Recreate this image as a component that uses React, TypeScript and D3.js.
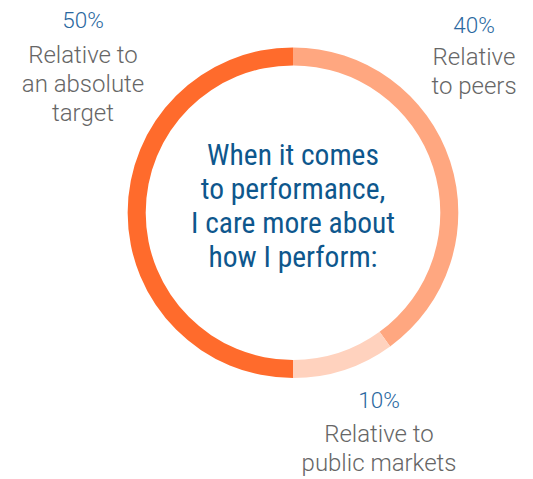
import React from "react";
import * as d3 from "d3";

const categories = ["Relative to peers", "Relative to public markets", "Relative to an absolute target"];
const values = [40, 10, 50];
const labelLines = [["Relative", "to peers"], ["Relative to", "public markets"], ["Relative to", "an absolute", "target"]];
const centerLines = ["When it comes", "to performance,", "I care more about", "how I perform:"];
const colors = ["#FFA780", "#FFD2BE", "#FF6B2C"];

const W = 533, H = 479;
const cx = 293, cy = 212.7, rOuter = 165.3, rInner = 147.3;
// label anchor layout: [x, percent baseline, first label baseline, line step]
const labelLayout = [
  { x: 474, py: 33, ly: 65, step: 28.5 },
  { x: 379, py: 408, ly: 442, step: 28.5 },
  { x: 83, py: 28, ly: 63, step: 29 },
];

export default function App() {
  const pie = d3.pie<number>().sort(null).value((d) => d);
  const arcs = pie(values);
  const arc = d3.arc<d3.PieArcDatum<number>>().innerRadius(rInner).outerRadius(rOuter);
  const fmt = (v: number) => `${v}%`;
  return (
    <svg width={W} height={H} style={{ position: "absolute", left: 0, top: 0, background: "#fff" }}>
      <g transform={`translate(${cx},${cy})`}>
        {arcs.map((a, i) => (
          <path key={categories[i]} d={arc(a) || ""} fill={colors[i]} />
        ))}
        {centerLines.map((t, i) => (
          <text
            key={t}
            x={0}
            y={-47.7 + i * 33.9}
            textAnchor="middle"
            fontFamily="'Roboto Condensed', Roboto, sans-serif"
            fontWeight={400}
            fontSize={29.5}
            fill="#0E578D"
          >
            {t}
          </text>
        ))}
      </g>
      {values.map((v, i) => {
        const L = labelLayout[i];
        return (
          <g key={categories[i]} fontFamily="Roboto, sans-serif" fontWeight={300} textAnchor="middle">
            <text x={L.x} y={L.py} fontSize={22.5} fill="#2A68A0">
              {fmt(v)}
            </text>
            {labelLines[i].map((t, j) => (
              <text key={t} x={L.x} y={L.ly + j * L.step} fontSize={24} fill="#666666">
                {t}
              </text>
            ))}
          </g>
        );
      })}
    </svg>
  );
}
